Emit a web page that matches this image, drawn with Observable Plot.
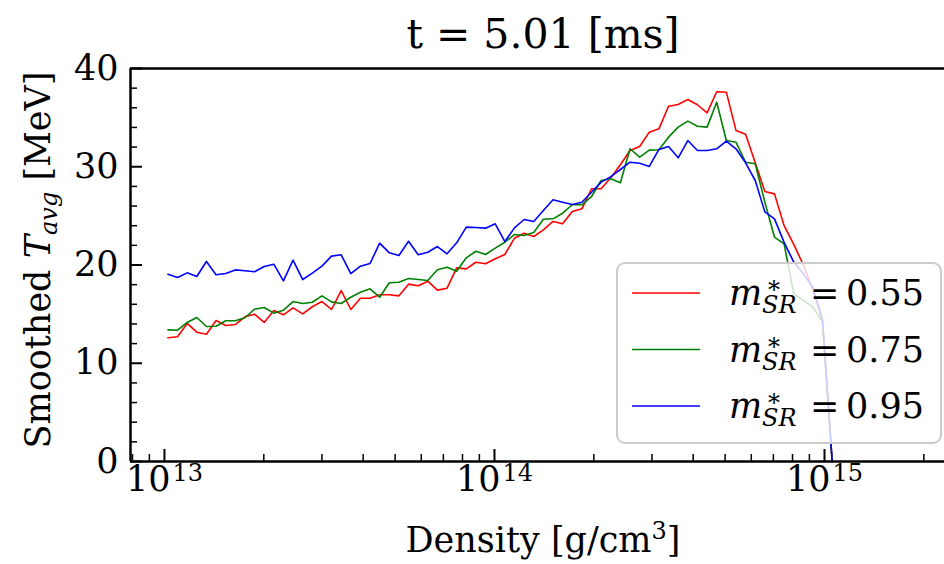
<!DOCTYPE html>
<html><head><meta charset="utf-8">
<script src="https://cdn.jsdelivr.net/npm/d3@7"></script>
<script src="https://cdn.jsdelivr.net/npm/@observablehq/plot@0.6"></script>
<style>body{margin:0;background:#fff} svg{display:block}</style>
</head><body><div id="chart"></div>
<script>
const titleText = "t = 5.01 [ms]";
const density = [
1.0245e13, 1.0957e13, 1.1718e13, 1.2532e13, 1.3402e13, 1.4333e13, 1.5329e13, 1.6393e13, 1.7532e13, 1.8750e13,
2.0052e13, 2.1445e13, 2.2934e13, 2.4527e13, 2.6231e13, 2.8053e13, 3.0001e13, 3.2085e13, 3.4314e13, 3.6697e13,
3.9246e13, 4.1972e13, 4.4887e13, 4.8005e13, 5.1339e13, 5.4905e13, 5.8719e13, 6.2797e13, 6.7159e13, 7.1824e13,
7.6813e13, 8.2148e13, 8.7854e13, 9.3956e13, 1.0053e14, 1.0752e14, 1.1497e14, 1.2296e14, 1.3152e14, 1.4067e14,
1.5042e14, 1.6088e14, 1.7205e14, 1.8401e14, 1.9679e14, 2.1047e14, 2.2510e14, 2.4075e14, 2.5748e14, 2.7538e14,
2.9452e14, 3.1498e14, 3.3687e14, 3.6029e14, 3.8532e14, 4.1211e14, 4.4075e14, 4.7139e14, 5.0415e14, 5.3918e14,
5.7666e14, 6.1672e14, 6.5959e14, 7.0543e14, 7.5447e14, 8.0689e14, 8.6298e14, 9.2296e14, 9.8651e14, 1.0551e15
];
const tempM055 = [
12.59, 12.69, 14.05, 13.16, 12.96, 14.35, 13.84, 13.94, 14.73, 14.99,
14.15, 15.37, 14.93, 15.64, 15.03, 15.75, 16.28, 15.47, 17.40, 15.47,
16.62, 16.62, 16.97, 16.97, 16.86, 18.05, 17.88, 18.35, 17.44, 17.64,
19.71, 19.61, 20.28, 20.12, 20.63, 21.07, 22.73, 23.24, 22.90, 23.58,
24.43, 24.19, 25.45, 25.72, 27.76, 27.76, 28.88, 30.20, 31.65, 32.06,
33.52, 33.86, 36.16, 36.34, 36.84, 36.31, 35.49, 37.63, 37.59, 33.70,
33.30, 30.40, 27.48, 27.24, 24.00, 22.10, 20.00, 17.40, 14.30, 0.00
];
const tempM075 = [
13.40, 13.36, 14.15, 14.66, 13.74, 13.77, 14.32, 14.32, 14.63, 15.50,
15.67, 15.10, 15.40, 16.28, 16.08, 16.21, 16.86, 16.25, 16.08, 16.72,
17.23, 17.58, 16.72, 18.19, 18.25, 18.63, 18.52, 18.42, 19.51, 19.78,
19.37, 20.73, 21.40, 21.07, 21.71, 22.32, 23.10, 23.00, 23.31, 24.66,
24.70, 25.27, 26.13, 26.13, 26.97, 28.60, 28.77, 28.37, 31.83, 30.97,
31.69, 31.73, 33.01, 34.03, 34.64, 34.13, 34.03, 36.57, 32.67, 32.50,
30.46, 30.30, 26.40, 22.83, 22.15, 17.07, 16.40, 15.70, 14.18, 0.00
];
const tempM095 = [
19.06, 18.73, 19.20, 18.83, 20.36, 19.00, 19.13, 19.50, 19.42, 19.31,
19.85, 20.08, 18.39, 20.49, 18.52, 19.17, 19.88, 20.90, 21.04, 19.13,
19.88, 20.15, 22.22, 21.24, 20.97, 22.42, 21.04, 21.30, 21.88, 21.14,
22.26, 23.85, 23.82, 23.75, 24.19, 22.39, 23.78, 24.63, 24.43, 25.55,
26.64, 26.39, 26.16, 26.39, 27.41, 28.43, 29.00, 29.72, 30.46, 30.36,
30.03, 31.76, 32.06, 30.91, 32.67, 31.65, 31.65, 31.83, 32.60, 31.83,
30.40, 28.60, 25.40, 24.70, 22.30, 20.30, 19.10, 17.70, 14.35, 0.00
];
const seriesNames = ["0.55", "0.75", "0.95"];
const seriesColors = ["#ff0000", "#008000", "#0000ff"];
const yMajorTicks = [0, 10, 20, 30, 40];
const yMinorTicks = [2, 4, 6, 8, 12, 14, 16, 18, 22, 24, 26, 28, 32, 34, 36, 38];
const xMajorTicks = [1e13, 1e14, 1e15];
const xMajorExps = ["13", "14", "15"];
const xMinorTicks = [8e12, 9e12, 2e13, 3e13, 4e13, 5e13, 6e13, 7e13, 8e13, 9e13,
  2e14, 3e14, 4e14, 5e14, 6e14, 7e14, 8e14, 9e14, 2e15];
const xDomain = [7.89e12, 2.31e15];
const yDomain = [0, 40];

const rows = [];
[tempM055, tempM075, tempM095].forEach((arr, k) =>
  arr.forEach((v, i) => rows.push({density: density[i], T: v, series: seriesNames[k]})));

const FONT = "'DejaVu Serif', serif";
const chart = Plot.plot({
  width: 944, height: 564,
  marginTop: 68, marginBottom: 103, marginLeft: 130, marginRight: 0,
  style: {fontFamily: FONT, background: "#fff", color: "#000", overflow: "visible"},
  x: {type: "log", domain: xDomain, label: null},
  y: {domain: yDomain, label: null},
  color: {domain: seriesNames, range: seriesColors},
  marks: [
    Plot.line(rows, {x: "density", y: "T", stroke: "series", strokeWidth: 1.6}),
    Plot.axisX({ticks: xMajorTicks, tickSize: -12, tickFormat: () => "", strokeWidth: 2, label: null}),
    Plot.axisX({ticks: xMinorTicks, tickSize: -7, tickFormat: () => "", strokeWidth: 1.5, label: null}),
    Plot.axisY({ticks: yMajorTicks, tickSize: -12, tickFormat: () => "", strokeWidth: 2, label: null}),
    Plot.axisY({ticks: yMinorTicks, tickSize: -7, tickFormat: () => "", strokeWidth: 1.5, label: null}),
    Plot.ruleY([yDomain[0]], {stroke: "#000", strokeWidth: 2.5}),
    Plot.ruleY([yDomain[1]], {stroke: "#000", strokeWidth: 2.5}),
    Plot.ruleX([xDomain[0]], {stroke: "#000", strokeWidth: 2.5}),
    Plot.text(xMajorTicks, {x: d => d, text: () => "10", frameAnchor: "bottom", textAnchor: "end", dx: 6, dy: 29.5, fontSize: 35, fill: "#000"}),
    Plot.text(xMajorTicks, {x: d => d, text: (d, i) => xMajorExps[i], frameAnchor: "bottom", textAnchor: "start", dx: 8, dy: 19, fontSize: 24, fill: "#000"}),
    Plot.text(yMajorTicks, {y: d => d, text: d => String(d), frameAnchor: "left", textAnchor: "end", dx: -12, fontSize: 35, fill: "#000"})
  ]
});
document.getElementById("chart").appendChild(chart);

const svg = d3.select(chart);
// title
svg.append("text").attr("x", 543).attr("y", 48).attr("text-anchor", "middle")
  .attr("font-family", FONT).attr("font-size", 41).attr("fill", "#000").text(titleText);
// x label
const xl = svg.append("text").attr("x", 543).attr("y", 552).attr("text-anchor", "middle")
  .attr("font-family", FONT).attr("font-size", 35).attr("fill", "#000");
xl.append("tspan").text("Density [g/cm");
xl.append("tspan").attr("font-size", 24).attr("dy", -13).text("3");
xl.append("tspan").attr("dy", 13).text("]");
// y label
const yl = svg.append("text").attr("transform", "translate(50,260) rotate(-90)").attr("text-anchor", "middle")
  .attr("font-family", FONT).attr("font-size", 35).attr("fill", "#000");
yl.append("tspan").text("Smoothed ");
yl.append("tspan").attr("font-style", "italic").text("T");
yl.append("tspan").attr("font-style", "italic").attr("font-size", 24).attr("dy", 7).text("avg");
yl.append("tspan").attr("dy", -7).text(" [MeV]");
// legend
const lg = svg.append("g").attr("text-anchor", "start");
lg.append("rect").attr("x", 617).attr("y", 263).attr("width", 324).attr("height", 180).attr("rx", 8)
  .attr("fill", "#fff").attr("fill-opacity", 0.8).attr("stroke", "#cccccc").attr("stroke-width", 2);
seriesNames.forEach((name, k) => {
  const yy = 293 + k * 56.5;
  const base = yy + 12;
  lg.append("line").attr("x1", 632).attr("x2", 700).attr("y1", yy).attr("y2", yy)
    .attr("stroke", seriesColors[k]).attr("stroke-width", 1.6);
  const tx = lg.append("text").attr("x", 729).attr("y", base).attr("font-family", FONT)
    .attr("text-anchor", "start").attr("font-size", 35).attr("fill", "#000");
  tx.append("tspan").attr("font-style", "italic").text("m");
  tx.append("tspan").attr("x", 768).attr("dy", -7).attr("font-size", 24).text("*");
  tx.append("tspan").attr("x", 762).attr("dy", 15).attr("font-size", 24).attr("font-style", "italic").text("SR");
  tx.append("tspan").attr("x", 810).attr("dy", -8).text("=");
  tx.append("tspan").attr("x", 846).text(name);
});
</script>
</body></html>
